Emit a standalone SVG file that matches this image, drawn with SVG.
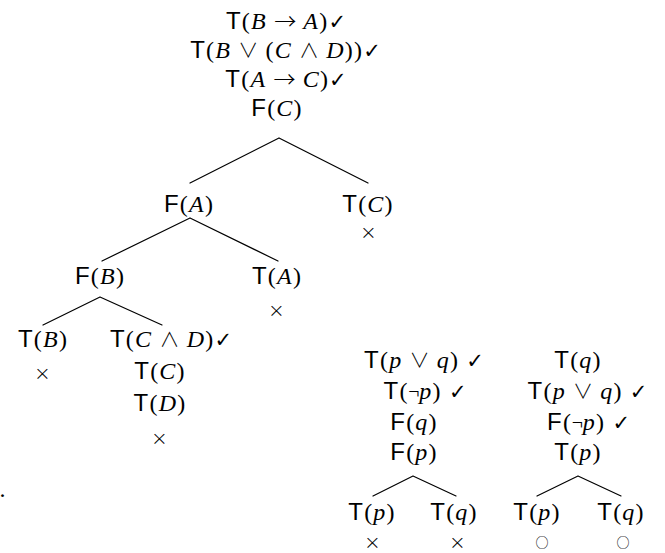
<svg xmlns="http://www.w3.org/2000/svg" width="665" height="553" viewBox="0 0 665 553">
  <style>
    text { font-size: 24px; text-anchor: middle; fill: #000; letter-spacing: 1.2px; }
    .sf { font-family: "Liberation Sans", "DejaVu Sans", sans-serif; }
    .rm { font-family: "Liberation Serif", "DejaVu Serif", serif; font-style: normal; }
    .mi { font-family: "Liberation Serif", "DejaVu Serif", serif; font-style: italic; }
    .op { font-family: "Noto Sans CJK JP", "DejaVu Sans", sans-serif; font-weight: 300; font-size: 20px; letter-spacing: 0; }
    .ar { font-family: "Noto Sans CJK JP", "DejaVu Sans", sans-serif; font-weight: 300; font-size: 22px; letter-spacing: 0; }
    .ck { font-family: "DejaVu Sans", sans-serif; font-size: 21px; font-weight: bold; letter-spacing: 0; }
    .mark { font-family: "DejaVu Sans", sans-serif; font-size: 20px; font-weight: 200; }
    .ring { font-family: "Noto Sans CJK JP", "DejaVu Sans", sans-serif; font-size: 13px; font-weight: 400; letter-spacing: 0; }
    .edge { stroke: #000; stroke-width: 1.2; fill: none; stroke-linecap: round; }
  </style>
  <rect width="665" height="553" fill="#fff"/>

  <!-- connectors -->
  <g id="connectors">
    <path class="edge" d="M279 138 L190 183 M279 138 L368 183"/>
    <path class="edge" d="M190 218 L102 261 M190 218 L278 261"/>
    <path class="edge" d="M100 297 L43 325 M100 297 L162 325"/>
    <path class="edge" d="M413 476 L373 496 M413 476 L456 496"/>
    <path class="edge" d="M578 476 L537 496 M578 476 L621 496"/>
  </g>

  <!-- root node: premises and negated conclusion -->
  <g id="root">
    <text x="286" y="29"><tspan class="sf">T</tspan><tspan class="rm">(</tspan><tspan class="mi">B</tspan><tspan class="rm"> </tspan><tspan class="ar">→</tspan><tspan class="rm"> </tspan><tspan class="mi">A</tspan><tspan class="rm">)</tspan><tspan class="ck">✓</tspan></text>
    <text x="285.5" y="58"><tspan class="sf">T</tspan><tspan class="rm">(</tspan><tspan class="mi">B</tspan><tspan class="rm"> </tspan><tspan class="op">∨</tspan><tspan class="rm"> (</tspan><tspan class="mi">C</tspan><tspan class="rm"> </tspan><tspan class="op">∧</tspan><tspan class="rm"> </tspan><tspan class="mi">D</tspan><tspan class="rm">))</tspan><tspan class="ck">✓</tspan></text>
    <text x="286" y="87"><tspan class="sf">T</tspan><tspan class="rm">(</tspan><tspan class="mi">A</tspan><tspan class="rm"> </tspan><tspan class="ar">→</tspan><tspan class="rm"> </tspan><tspan class="mi">C</tspan><tspan class="rm">)</tspan><tspan class="ck">✓</tspan></text>
    <text x="277" y="116"><tspan class="sf">F</tspan><tspan class="rm">(</tspan><tspan class="mi">C</tspan><tspan class="rm">)</tspan></text>
  </g>

  <g id="node-FA">
    <text x="189" y="212"><tspan class="sf">F</tspan><tspan class="rm">(</tspan><tspan class="mi">A</tspan><tspan class="rm">)</tspan></text>
  </g>

  <g id="node-TC">
    <text x="368" y="212"><tspan class="sf">T</tspan><tspan class="rm">(</tspan><tspan class="mi">C</tspan><tspan class="rm">)</tspan></text>
    <text class="mark" x="369" y="239">×</text>
  </g>

  <g id="node-FB">
    <text x="100" y="284"><tspan class="sf">F</tspan><tspan class="rm">(</tspan><tspan class="mi">B</tspan><tspan class="rm">)</tspan></text>
  </g>

  <g id="node-TA">
    <text x="277" y="284"><tspan class="sf">T</tspan><tspan class="rm">(</tspan><tspan class="mi">A</tspan><tspan class="rm">)</tspan></text>
    <text class="mark" x="277" y="317">×</text>
  </g>

  <g id="node-TB">
    <text x="43" y="347"><tspan class="sf">T</tspan><tspan class="rm">(</tspan><tspan class="mi">B</tspan><tspan class="rm">)</tspan></text>
    <text class="mark" x="43" y="380">×</text>
  </g>

  <g id="node-TCD">
    <text x="171" y="347"><tspan class="sf">T</tspan><tspan class="rm">(</tspan><tspan class="mi">C</tspan><tspan class="rm"> </tspan><tspan class="op">∧</tspan><tspan class="rm"> </tspan><tspan class="mi">D</tspan><tspan class="rm">)</tspan><tspan class="ck">✓</tspan></text>
    <text x="160" y="379"><tspan class="sf">T</tspan><tspan class="rm">(</tspan><tspan class="mi">C</tspan><tspan class="rm">)</tspan></text>
    <text x="160" y="411"><tspan class="sf">T</tspan><tspan class="rm">(</tspan><tspan class="mi">D</tspan><tspan class="rm">)</tspan></text>
    <text class="mark" x="160" y="445">×</text>
  </g>

  <!-- stray period at the left margin -->
  <text class="rm" x="3" y="497">.</text>

  <!-- second tableau: left -->
  <g id="tab2-root">
    <text x="424" y="368"><tspan class="sf">T</tspan><tspan class="rm">(</tspan><tspan class="mi">p</tspan><tspan class="rm"> </tspan><tspan class="op">∨</tspan><tspan class="rm"> </tspan><tspan class="mi">q</tspan><tspan class="rm">) </tspan><tspan class="ck">✓</tspan></text>
    <text x="425" y="399"><tspan class="sf">T</tspan><tspan class="rm">(</tspan><tspan class="op">¬</tspan><tspan class="mi">p</tspan><tspan class="rm">) </tspan><tspan class="ck">✓</tspan></text>
    <text x="414" y="430"><tspan class="sf">F</tspan><tspan class="rm">(</tspan><tspan class="mi">q</tspan><tspan class="rm">)</tspan></text>
    <text x="414" y="460"><tspan class="sf">F</tspan><tspan class="rm">(</tspan><tspan class="mi">p</tspan><tspan class="rm">)</tspan></text>
  </g>
  <g id="tab2-Tp">
    <text x="372" y="520"><tspan class="sf">T</tspan><tspan class="rm">(</tspan><tspan class="mi">p</tspan><tspan class="rm">)</tspan></text>
    <text class="mark" x="373" y="549">×</text>
  </g>
  <g id="tab2-Tq">
    <text x="454" y="520"><tspan class="sf">T</tspan><tspan class="rm">(</tspan><tspan class="mi">q</tspan><tspan class="rm">)</tspan></text>
    <text class="mark" x="458" y="549">×</text>
  </g>

  <!-- third tableau: right -->
  <g id="tab3-root">
    <text x="578" y="368"><tspan class="sf">T</tspan><tspan class="rm">(</tspan><tspan class="mi">q</tspan><tspan class="rm">)</tspan></text>
    <text x="587.5" y="399"><tspan class="sf">T</tspan><tspan class="rm">(</tspan><tspan class="mi">p</tspan><tspan class="rm"> </tspan><tspan class="op">∨</tspan><tspan class="rm"> </tspan><tspan class="mi">q</tspan><tspan class="rm">) </tspan><tspan class="ck">✓</tspan></text>
    <text x="588.5" y="430"><tspan class="sf">F</tspan><tspan class="rm">(</tspan><tspan class="op">¬</tspan><tspan class="mi">p</tspan><tspan class="rm">) </tspan><tspan class="ck">✓</tspan></text>
    <text x="578" y="460"><tspan class="sf">T</tspan><tspan class="rm">(</tspan><tspan class="mi">p</tspan><tspan class="rm">)</tspan></text>
  </g>
  <g id="tab3-Tp">
    <text x="537" y="520"><tspan class="sf">T</tspan><tspan class="rm">(</tspan><tspan class="mi">p</tspan><tspan class="rm">)</tspan></text>
    <text class="ring" x="542" y="547">○</text>
  </g>
  <g id="tab3-Tq">
    <text x="621" y="520"><tspan class="sf">T</tspan><tspan class="rm">(</tspan><tspan class="mi">q</tspan><tspan class="rm">)</tspan></text>
    <text class="ring" x="623" y="547">○</text>
  </g>
</svg>
